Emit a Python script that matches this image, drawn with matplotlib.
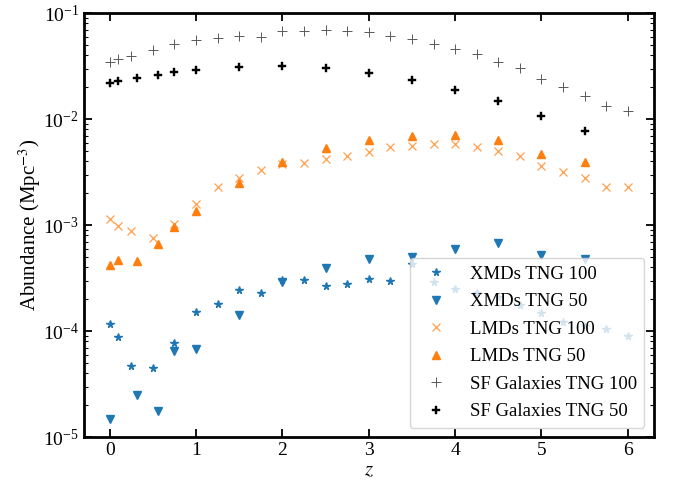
import matplotlib
matplotlib.use("Agg")
import matplotlib.pyplot as plt
import numpy as np

plt.rcParams['font.family'] = ['Liberation Serif', 'DejaVu Serif']
plt.rcParams['mathtext.fontset'] = 'stix'

# redshifts of the two simulations
z_100 = [0, 0.1, 0.25, 0.5, 0.75, 1.0, 1.25, 1.5, 1.75, 2.0, 2.25, 2.5, 2.75,
         3.0, 3.25, 3.5, 3.75, 4.0, 4.25, 4.5, 4.75, 5.0, 5.25, 5.5, 5.75, 6.0]
z_50 = [0, 0.1, 0.32, 0.56, 0.75, 1.0, 1.5, 2.0, 2.5, 3.0, 3.5, 4.0, 4.5, 5.0, 5.5]
z_50_xmd = [0, 0.32, 0.56, 0.75, 1.0, 1.5, 2.0, 2.5, 3.0, 3.5, 4.0, 4.5, 5.0, 5.5]

xmd_100 = [1.18e-4, 8.8e-5, 4.7e-5, 4.5e-5, 7.8e-5, 1.53e-4, 1.8e-4, 2.47e-4, 2.3e-4,
           3.04e-4, 3.06e-4, 2.69e-4, 2.81e-4, 3.11e-4, 2.96e-4, 4.27e-4, 2.89e-4,
           2.5e-4, 2.3e-4, 2.1e-4, 1.78e-4, 1.48e-4, 1.23e-4, 1.11e-4, 1.04e-4, 9.0e-5]
xmd_50 = [1.49e-5, 2.51e-5, 1.75e-5, 6.43e-5, 6.77e-5, 1.42e-4, 2.93e-4, 3.92e-4,
          4.8e-4, 5.04e-4, 5.96e-4, 6.83e-4, 5.23e-4, 4.8e-4]

lmd_100 = [1.14e-3, 9.9e-4, 8.8e-4, 7.5e-4, 1.02e-3, 1.6e-3, 2.3e-3, 2.79e-3, 3.28e-3,
           3.74e-3, 3.9e-3, 4.22e-3, 4.54e-3, 4.88e-3, 5.47e-3, 5.56e-3, 5.8e-3,
           5.8e-3, 5.44e-3, 4.98e-3, 4.5e-3, 3.6e-3, 3.14e-3, 2.76e-3, 2.28e-3, 2.28e-3]
lmd_50 = [4.21e-4, 4.69e-4, 4.59e-4, 6.64e-4, 9.66e-4, 1.37e-3, 2.51e-3, 3.95e-3,
          5.29e-3, 6.33e-3, 6.9e-3, 7.05e-3, 6.33e-3, 4.74e-3, 3.93e-3]

sf_100 = [0.0347, 0.0368, 0.0399, 0.0448, 0.0513, 0.0556, 0.059, 0.0611, 0.0603,
          0.0687, 0.0687, 0.0696, 0.0687, 0.0658, 0.0611, 0.0569, 0.0518, 0.0455,
          0.0408, 0.035, 0.0301, 0.024, 0.0203, 0.0167, 0.0133, 0.012]
sf_50 = [0.022, 0.023, 0.0247, 0.0262, 0.0276, 0.029, 0.0311, 0.0318, 0.0305, 0.0273,
         0.0233, 0.0187, 0.015, 0.0107, 0.00776]

fig = plt.figure(figsize=(6.76, 4.9), dpi=100)
ax = fig.add_axes([0.124, 0.108, 0.843, 0.865])

ax.plot(z_100, xmd_100, '*', color='tab:blue', ms=5.5, ls='none', label='XMDs TNG 100')
ax.plot(z_50_xmd, xmd_50, 'v', color='tab:blue', ms=6, ls='none', label='XMDs TNG 50')
ax.plot(z_100, lmd_100, 'x', color='tab:orange', alpha=0.75, ms=6, mew=0.9, ls='none',
        label='LMDs TNG 100')
ax.plot(z_50, lmd_50, '^', color='tab:orange', ms=6, ls='none', label='LMDs TNG 50')
ax.plot(z_100, sf_100, '+', color='0.35', ms=7, mew=0.7, ls='none',
        label='SF Galaxies TNG 100')
ax.plot(z_50, sf_50, 'P', color='black', ms=6, mew=0.3, ls='none',
        label='SF Galaxies TNG 50')

ax.set_yscale('log')
ax.set_ylim(1e-5, 1e-1)
ax.set_xlim(-0.3, 6.3)
ax.set_xticks(range(7))
ax.set_xlabel('$z$', fontsize=15, labelpad=2)
ax.set_ylabel(r'Abundance (Mpc$^{-3}$)', fontsize=15, labelpad=0)

ax.tick_params(which='both', direction='in', top=True, right=True, labelsize=14)
ax.tick_params(which='major', length=6, width=1.3)
ax.tick_params(which='minor', length=3, width=0.8)
for s in ax.spines.values():
    s.set_linewidth(2)

ax.legend(loc='lower right', fontsize=13.5, framealpha=0.8, labelspacing=0.55)

fig.savefig('out.png', dpi=100)
